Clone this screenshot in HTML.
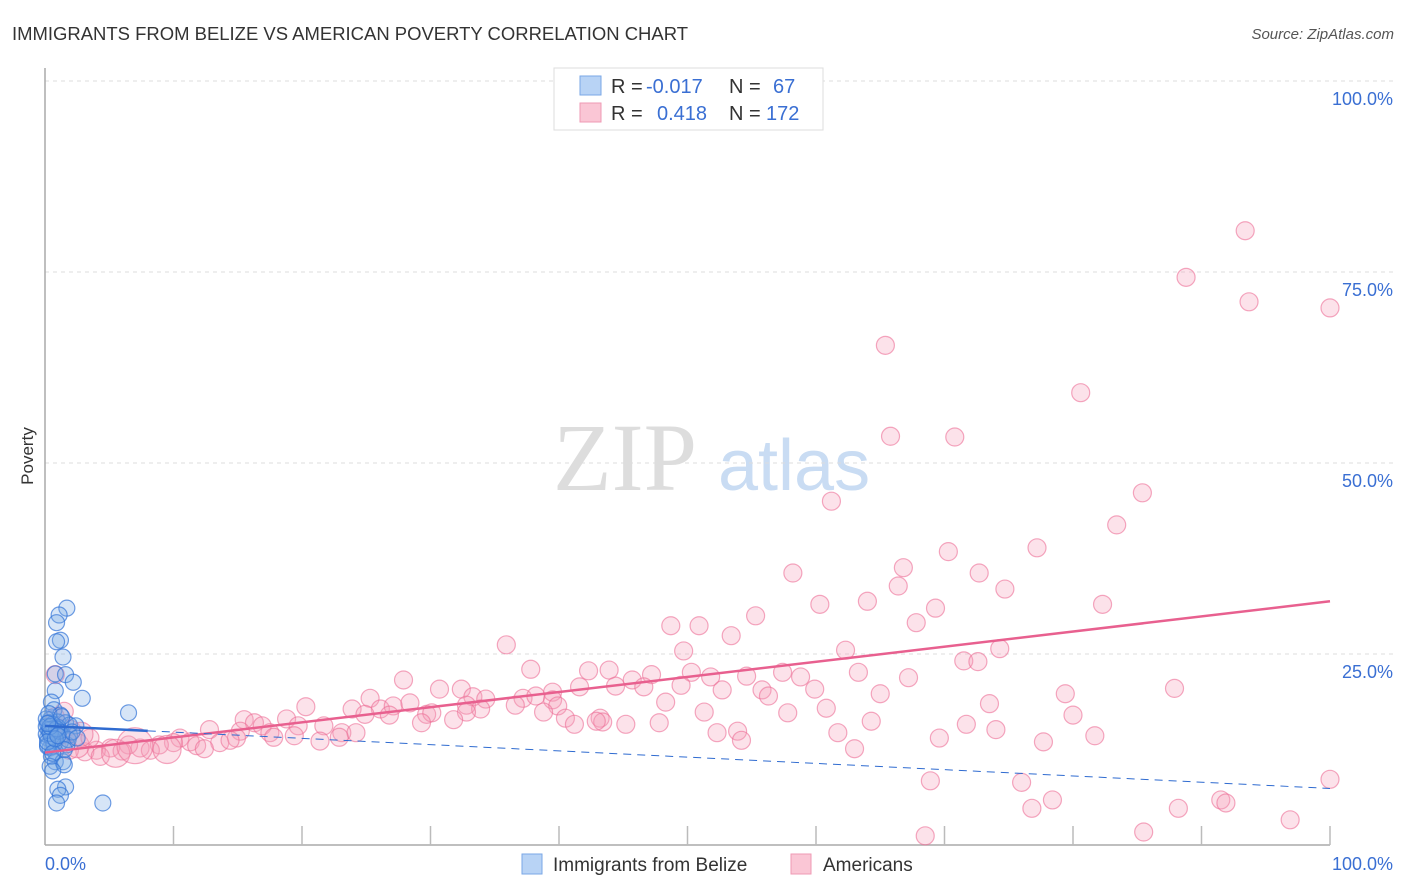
<!DOCTYPE html>
<html><head><meta charset="utf-8"><style>
body{margin:0;background:#fff;width:1406px;height:892px;overflow:hidden;font-family:"Liberation Sans",sans-serif}
svg{display:block}
</style></head><body>
<svg id="chart" width="1406" height="892" xmlns="http://www.w3.org/2000/svg">
<text x="12" y="40" font-size="18" fill="#333" textLength="676" lengthAdjust="spacingAndGlyphs">IMMIGRANTS FROM BELIZE VS AMERICAN POVERTY CORRELATION CHART</text>
<text x="1394" y="39" font-size="15" fill="#555" font-style="italic" text-anchor="end">Source: ZipAtlas.com</text>
<g>
<text x="553" y="490" font-size="96" font-family="Liberation Serif,serif" fill="#ddd">ZIP</text>
<text x="718" y="490" font-size="72" fill="#c9dcf3">atlas</text>
</g>
<g id="grid"></g>
<g id="axes"></g>
<g id="pink"></g>
<g id="blue"></g>
<g id="trends"></g>
<text transform="translate(33,456) rotate(-90)" font-size="17" fill="#333" text-anchor="middle">Poverty</text>
<g>
<rect x="554" y="68" width="269" height="62" fill="#fff" stroke="#ddd"/>
<rect x="580" y="76" width="21" height="19" fill="#b8d3f5" stroke="#7aa7e6"/>
<rect x="580" y="103" width="21" height="19" fill="#fac6d5" stroke="#ef9ab4"/>
<text x="611" y="93" font-size="20" fill="#333">R =</text>
<text x="646" y="93" font-size="20" fill="#3a6fd3">-0.017</text>
<text x="729" y="93" font-size="20" fill="#333">N =</text>
<text x="773" y="93" font-size="20" fill="#3a6fd3">67</text>
<text x="611" y="120" font-size="20" fill="#333">R =</text>
<text x="657" y="120" font-size="20" fill="#3a6fd3">0.418</text>
<text x="729" y="120" font-size="20" fill="#333">N =</text>
<text x="766" y="120" font-size="20" fill="#3a6fd3">172</text>
</g>
<g>
<rect x="522" y="854" width="20" height="20" fill="#b8d3f5" stroke="#7aa7e6"/>
<text x="553" y="871" font-size="19" fill="#333">Immigrants from Belize</text>
<rect x="791" y="854" width="20" height="20" fill="#fac6d5" stroke="#ef9ab4"/>
<text x="823" y="871" font-size="19" fill="#333">Americans</text>
</g>
</svg>
<script>
const yTicks=[25,50,75,100];
const yTickLabels=["25.0%","50.0%","75.0%","100.0%"];
const xTickLabels=["0.0%","100.0%"];
const pinkX=[93.4,88.8,93.7,100,65.4,80.6,65.8,70.8,85.4,61.2,83.4,77.2,70.3,66.8,58.2,72.7,66.4,74.7,64.0,60.3,82.3,69.3,55.3,67.8,48.7,50.9,53.4,35.9,49.7,62.3,74.3,71.5,72.6,37.8,42.3,43.9,50.3,51.8,54.6,57.4,58.8,63.3,67.2,47.2,45.7,46.6,27.9,41.6,44.4,49.5,52.7,55.8,56.3,59.9,65.0,79.4,87.9,30.7,32.4,39.5,25.3,33.3,34.3,37.2,38.2,39.5,20.3,23.9,26.1,27.1,28.4,32.8,33.9,36.6,39.9,48.3,60.8,73.5,80.0,24.9,26.8,29.7,30.1,32.8,38.8,51.3,57.8,18.8,40.5,43.2,43.4,41.2,42.9,45.2,47.8,31.8,29.3,15.5,16.3,16.9,19.7,21.7,64.3,71.7,74.0,12.8,15.2,17.5,23.1,24.2,52.3,53.9,61.7,81.7,17.8,19.4,21.4,22.9,14.9,69.6,77.7,54.2,10.5,11.3,13.6,14.4,10.0,11.8,8.9,12.4,7.4,8.2,6.5,5.1,63.0,6.0,4.0,3.1,4.3,1.9,68.9,76.0,100,78.4,76.8,88.2,91.5,91.9,85.5,96.9,68.5,0.8,0.8,1.2,2.5,1.5,3.5,2.0,5.5,7.0,9.5,2.8];
const pinkY=[80.4,74.3,71.1,70.3,65.4,59.2,53.5,53.4,46.1,45.0,41.9,38.9,38.4,36.3,35.6,35.6,33.9,33.5,31.9,31.5,31.5,31.0,30.0,29.1,28.7,28.7,27.4,26.2,25.4,25.5,25.7,24.1,24.0,23.0,22.8,22.9,22.6,22.0,22.1,22.6,22.0,22.6,21.9,22.3,21.6,20.7,21.6,20.7,20.8,20.9,20.3,20.3,19.5,20.4,19.8,19.8,20.5,20.4,20.4,20.0,19.2,19.4,19.1,19.2,19.5,19.0,18.1,17.8,17.8,18.2,18.6,18.3,17.8,18.3,18.2,18.7,17.9,18.5,17.0,17.1,17.0,17.1,17.3,17.4,17.4,17.4,17.3,16.5,16.6,16.6,16.1,15.8,16.2,15.8,16.0,16.4,16.0,16.4,16.0,15.6,15.6,15.6,16.2,15.8,15.1,15.1,14.9,14.7,14.7,14.7,14.7,14.9,14.7,14.3,14.1,14.3,13.6,14.1,14.0,14.0,13.5,13.7,14.0,13.5,13.4,13.7,13.4,13.0,13.1,12.6,12.7,12.4,13.1,12.7,12.6,12.3,12.4,12.2,11.6,12.4,8.4,8.2,8.6,5.9,4.8,4.8,5.9,5.5,1.7,3.3,1.2,22.3,16.8,14.4,13.0,17.5,14.0,15.0,12.0,13.0,12.5,14.5];
const pinkBigR=[9,9,9,12,9,9,10,14,18,14,12];
const blueX=[1.7,1.1,0.9,1.2,0.9,1.4,0.8,1.6,2.2,0.8,2.9,0.5,0.7,6.5,1.2,0.4,1.0,1.6,1.9,2.4,0.4,0.9,1.3,1.9,0.2,0.6,1.2,1.7,0.4,0.8,0.2,1.0,0.5,0.8,1.4,0.4,1.5,0.6,1.6,1.0,1.2,0.9,4.5,0.1,0.1,0.1,0.3,0.5,0.7,0.3,0.6,1.1,1.8,0.2,0.4,2.1,1.5,0.3,0.9,1.3,0.2,0.6,2.5,0.4,0.8,1.0,0.2];
const blueY=[31.0,30.1,29.1,26.8,26.6,24.6,22.4,22.3,21.3,20.2,19.2,18.7,17.7,17.3,17.0,16.4,16.1,16.0,15.7,15.6,15.1,14.8,14.4,14.4,14.0,13.7,13.5,13.1,12.7,12.2,13.1,15.4,11.6,10.9,10.9,10.3,10.5,9.7,7.6,7.3,6.5,5.5,5.5,15.5,14.5,16.5,15.0,14.2,13.2,16.0,15.8,14.9,13.8,12.9,14.6,14.8,12.5,17.2,15.2,16.8,13.5,12.0,14.0,15.5,13.9,14.3,15.9];
const pinkTrend=[12.1,31.9];
const blueTrend=[15.6,7.4];
const NS="http://www.w3.org/2000/svg";
const X=v=>45+v*12.85, Y=v=>845-v*7.64;
function mk(tag,attrs,parent){const e=document.createElementNS(NS,tag);for(const k in attrs)e.setAttribute(k,attrs[k]);parent.appendChild(e);return e;}
const grid=document.getElementById('grid'),axes=document.getElementById('axes');
yTicks.forEach((t,i)=>{
 const l=mk('line',{x1:45,x2:1394,y1:Y(t),y2:Y(t),stroke:'#ddd','stroke-dasharray':'4,4'},grid);
 
 
 const tx=mk('text',{x:1393,y:Y(t)+24,'font-size':18,fill:'#3a6fd3','text-anchor':'end'},axes);
 tx.textContent=yTickLabels[i];
 
 
});
let a=mk('line',{x1:45,x2:45,y1:68,y2:845,stroke:'#aaa','stroke-width':1.5},axes);


a=mk('line',{x1:45,x2:1330,y1:845,y2:845,stroke:'#aaa','stroke-width':1.5},axes);


for(let i=1;i<=10;i++){const t=mk('line',{x1:X(i*10),x2:X(i*10),y1:826,y2:845,stroke:'#bbb','stroke-width':1.5},axes);
 
 }
let xl=mk('text',{x:45,y:870,'font-size':18,fill:'#3a6fd3'},axes);xl.textContent=xTickLabels[0];


xl=mk('text',{x:1393,y:870,'font-size':18,fill:'#3a6fd3','text-anchor':'end'},axes);xl.textContent=xTickLabels[1];


const pg=document.getElementById('pink');
const bigStart=pinkX.length-pinkBigR.length;
pinkX.forEach((x,i)=>{const r=i>=bigStart?pinkBigR[i-bigStart]:9;
 const c=mk('circle',{cx:X(x),cy:Y(pinkY[i]),r:r,fill:'rgba(245,160,185,0.3)',stroke:'rgba(236,110,150,0.6)','stroke-width':1.2},pg);
 
 });
const bg=document.getElementById('blue');
blueX.forEach((x,i)=>{const c=mk('circle',{cx:X(x),cy:Y(blueY[i]),r:8,fill:'rgba(120,170,230,0.3)',stroke:'rgba(50,115,215,0.7)','stroke-width':1.2},bg);
 
 });
const tg=document.getElementById('trends');
let tl=mk('line',{x1:X(0),y1:Y(pinkTrend[0]),x2:X(100),y2:Y(pinkTrend[1]),stroke:'#e8608f','stroke-width':2.5},tg);


const bAt=v=>blueTrend[0]+(blueTrend[1]-blueTrend[0])*v/100;
tl=mk('line',{x1:X(0),y1:Y(bAt(0)),x2:X(8),y2:Y(bAt(8)),stroke:'#2f6bd0','stroke-width':2.5},tg);


tl=mk('line',{x1:X(8),y1:Y(bAt(8)),x2:X(100),y2:Y(bAt(100)),stroke:'#2f6bd0','stroke-width':1,'stroke-dasharray':'8,6'},tg);


</script>
</body></html>
